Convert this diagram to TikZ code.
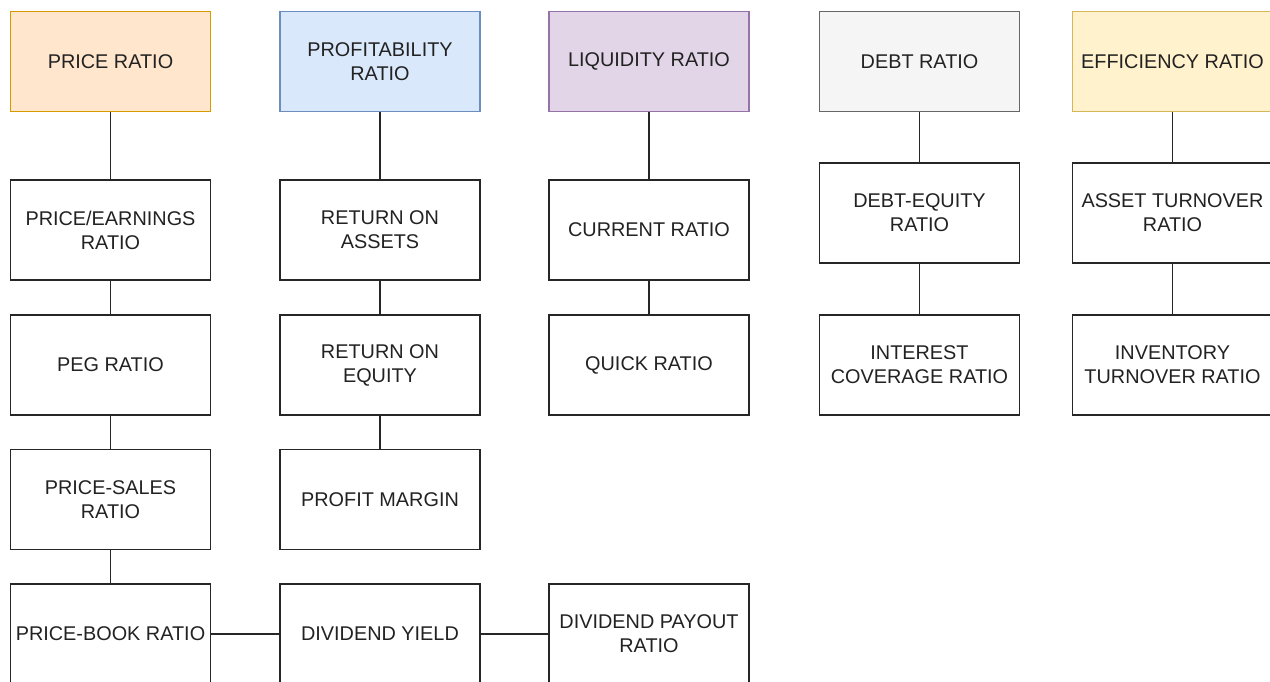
\documentclass[tikz,border=0pt]{standalone}
\usepackage{fontspec}
\setmainfont{Liberation Sans}
\definecolor{priceFill}{HTML}{FFE6CC}\definecolor{priceLine}{HTML}{D79B00}
\definecolor{profitFill}{HTML}{DAE8FC}\definecolor{profitLine}{HTML}{6C8EBF}
\definecolor{liquidFill}{HTML}{E1D5E7}\definecolor{liquidLine}{HTML}{9673A6}
\definecolor{debtFill}{HTML}{F5F5F5}\definecolor{debtLine}{HTML}{666666}
\definecolor{effFill}{HTML}{FFF2CC}\definecolor{effLine}{HTML}{D6B656}
\definecolor{labelText}{HTML}{222222}
\begin{document}
\begin{tikzpicture}
[x=0.02cm,y=-0.02cm,
  lineDecorate/.style={-,line width=0.8pt,draw=black!85},%
  nodeDecorate/.style={shape=rectangle,draw=black!85,line width=0.8pt,fill=white,
    minimum width=4cm,minimum height=2cm,inner sep=0pt,align=center,
    text=labelText,font=\fontsize{11.3}{13.6}\selectfont}]
\useasboundingbox (0,0) rectangle (1270,682);
%% header nodes
\foreach \nodename/\nodelabel/\x/\hue in {
  price/{PRICE RATIO}/110.5/price, profit/{PROFITABILITY\\RATIO}/380/profit,
  liquid/{LIQUIDITY RATIO}/649/liquid, debt/{DEBT RATIO}/919.5/debt,
  eff/{EFFICIENCY RATIO}/1172.5/eff}
{
  \node (\nodename) at (\x,61.5) [nodeDecorate,fill=\hue Fill,draw=\hue Line] {\nodelabel};
}
%% ratio nodes
\foreach \nodename/\nodelabel/\x/\y in {
  pe/{PRICE/EARNINGS\\RATIO}/110.5/230, peg/{PEG RATIO}/110.5/365,
  ps/{PRICE-SALES\\RATIO}/110.5/499.5, pb/{PRICE-BOOK RATIO}/110.5/634,
  roa/{RETURN ON\\ASSETS}/380/230, roe/{RETURN ON\\EQUITY}/380/365,
  margin/{PROFIT MARGIN}/380/499.5, yield/{DIVIDEND YIELD}/380/634,
  current/{CURRENT RATIO}/649/230, quick/{QUICK RATIO}/649/365,
  payout/{DIVIDEND PAYOUT\\RATIO}/649/634,
  de/{DEBT-EQUITY\\RATIO}/919.5/213, icr/{INTEREST\\COVERAGE RATIO}/919.5/365,
  asset/{ASSET TURNOVER\\RATIO}/1172.5/213, stock/{INVENTORY\\TURNOVER RATIO}/1172.5/365}
{
  \node (\nodename) at (\x,\y) [nodeDecorate] {\nodelabel};
}
%% edges or lines
\path
\foreach \startnode/\endnode in {
  price/pe, pe/peg, peg/ps, ps/pb, pb/yield, yield/payout,
  profit/roa, roa/roe, roe/margin, liquid/current, current/quick,
  debt/de, de/icr, eff/asset, asset/stock}
{
  (\startnode) edge[lineDecorate] (\endnode)
};
\end{tikzpicture}
\end{document}
